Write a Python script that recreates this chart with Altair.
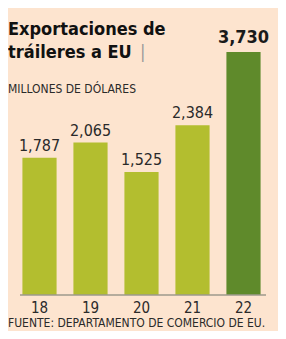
import altair as alt
import pandas as pd

years = ["18", "19", "20", "21", "22"]
values = [1787, 2065, 1525, 2384, 3730]
labels = ["1,787", "2,065", "1,525", "2,384", "3,730"]
highlight = [False, False, False, False, True]

title_text = "Exportaciones de\ntráileres a EU"
subtitle = "MILLONES DE DÓLARES"
source = "FUENTE: DEPARTAMENTO DE COMERCIO DE EU."

BASE = -735
df = pd.DataFrame({"year": years, "value": values, "label": labels, "hl": highlight, "base": [BASE] * 5})

FONT = "DejaVu Sans Condensed, Liberation Sans Narrow, Roboto Condensed, sans-serif"
BG = "#fde4cf"

x = alt.X("year:N", sort=years, axis=None,
          scale=alt.Scale(range=[6, 261], paddingInner=0.33, paddingOuter=0.165))
yscale = alt.Scale(domain=[BASE, 3730], range=[287, 44])

base = alt.Chart(df)

bars = base.mark_bar().encode(
    x=x,
    y=alt.Y("value:Q", scale=yscale, axis=None),
    y2="base:Q",
    color=alt.Color("hl:N", scale=alt.Scale(domain=[False, True], range=["#b3be2f", "#5f8a2b"]), legend=None),
)

lab_small = base.transform_filter("!datum.hl").mark_text(
    font=FONT, fontSize=16, baseline="bottom", dy=-4, color="#2a2a2a"
).encode(x=x, y=alt.Y("value:Q", scale=yscale, axis=None), text="label:N")

lab_big = base.transform_filter("datum.hl").mark_text(
    font=FONT, fontSize=18, fontWeight="bold", baseline="bottom", dy=-5, color="#1a1a1a"
).encode(x=x, y=alt.Y("value:Q", scale=yscale, axis=None), text="label:N")

xlabels = base.mark_text(
    font=FONT, fontSize=15, baseline="top", dy=6, color="#2a2a2a"
).encode(x=x, y=alt.Y("base:Q", scale=yscale, axis=None), text="year:N")

baseline = base.transform_filter("datum.year == '18'").mark_rule(color="#9c9a8c", strokeWidth=1.5).encode(
    x=alt.value(12), x2=alt.value(258), y=alt.Y("base:Q", scale=yscale, axis=None)
)

title = alt.Chart(pd.DataFrame({"t": [title_text]})).mark_text(
    font=FONT, fontSize=18, fontWeight="bold", align="left", baseline="alphabetic",
    color="#111111", lineBreak="\n", lineHeight=23
).encode(x=alt.value(0), y=alt.value(27), text="t:N")

bar_mark = alt.Chart(pd.DataFrame({"t": ["|"]})).mark_text(
    font=FONT, fontSize=18, align="left", baseline="alphabetic", color="#9a9a9a"
).encode(x=alt.value(132), y=alt.value(50), text="t:N")

sub = alt.Chart(pd.DataFrame({"t": [subtitle]})).mark_text(
    font=FONT, fontSize=12, align="left", baseline="alphabetic", color="#2a2a2a"
).encode(x=alt.value(0), y=alt.value(85), text="t:N")

src = alt.Chart(pd.DataFrame({"t": [source]})).mark_text(
    font=FONT, fontSize=12, align="left", baseline="alphabetic", color="#2a2a2a"
).encode(x=alt.value(0), y=alt.value(319), text="t:N")

chart = alt.layer(bars, baseline, lab_small, lab_big, xlabels, title, bar_mark, sub, src).properties(
    width=270, height=323, background=BG, padding=0,
    autosize=alt.AutoSizeParams(type="none"),
).configure_view(stroke=None)

chart.save("out.html", embed_options={"renderer": "svg", "actions": False})
